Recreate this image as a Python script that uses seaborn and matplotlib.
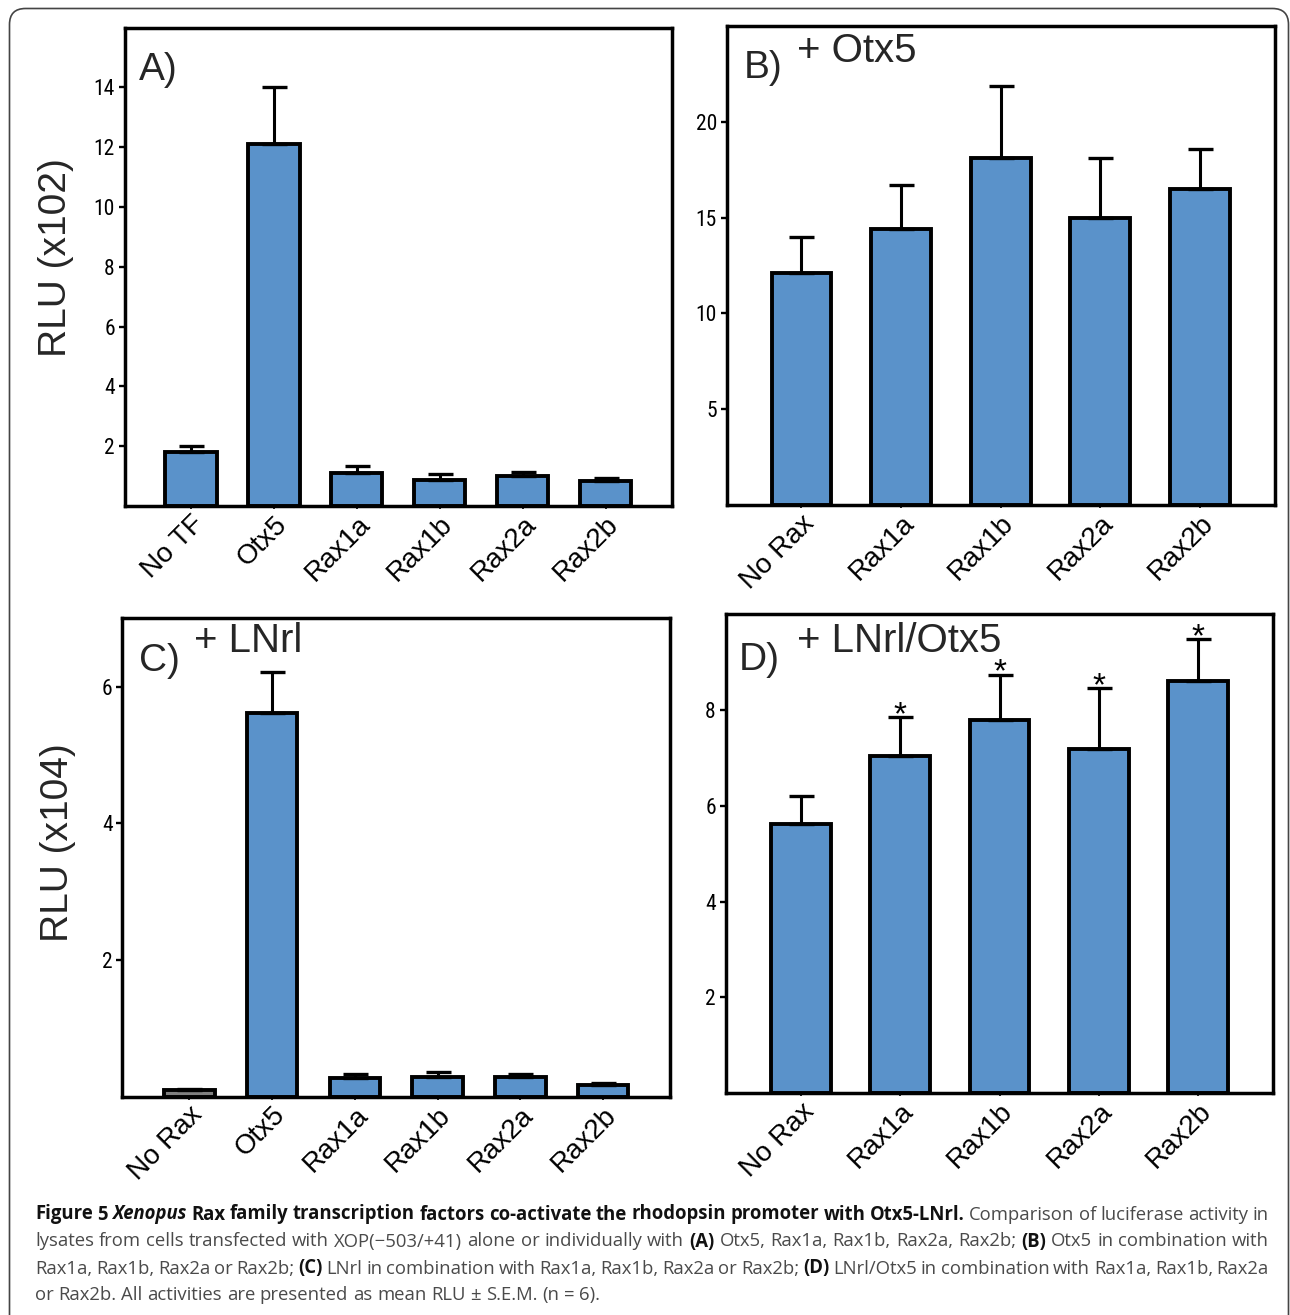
import numpy as np
import pandas as pd
import matplotlib
matplotlib.use('Agg')
import matplotlib.pyplot as plt
import seaborn as sns
from matplotlib.patches import FancyBboxPatch
from matplotlib.transforms import IdentityTransform

sns.set_theme(style='white')
plt.rcParams['font.family'] = ['Liberation Sans', 'DejaVu Sans']

# ---------------- data ----------------
cats_a = ['No TF', 'Otx5', 'Rax1a', 'Rax1b', 'Rax2a', 'Rax2b']
mean_a = [1.8, 12.1, 1.1, 0.88, 1.0, 0.84]
sem_a = [0.2, 1.9, 0.23, 0.18, 0.13, 0.1]

cats_b = ['No Rax', 'Rax1a', 'Rax1b', 'Rax2a', 'Rax2b']
mean_b = [12.1, 14.4, 18.1, 15.0, 16.5]
sem_b = [1.9, 2.3, 3.75, 3.1, 2.1]

cats_c = ['No Rax', 'Otx5', 'Rax1a', 'Rax1b', 'Rax2a', 'Rax2b']
mean_c = [0.1, 5.62, 0.27, 0.29, 0.29, 0.17]
sem_c = [0.02, 0.59, 0.06, 0.07, 0.04, 0.03]

cats_d = ['No Rax', 'Rax1a', 'Rax1b', 'Rax2a', 'Rax2b']
mean_d = [5.62, 7.04, 7.8, 7.19, 8.62]
sem_d = [0.58, 0.82, 0.94, 1.27, 0.86]
sig_d = ['', '*', '*', '*', '*']

BLUE = '#5a92ca'
GREY = '#7f7f7f'
W, H = 1290, 1315
COND = ['Roboto Condensed', 'DejaVu Sans']

fig = plt.figure(figsize=(W / 100, H / 100), dpi=100)
fig.patch.set_facecolor('white')


def px_axes(l, r, t, b):
    return fig.add_axes([l / W, 1 - b / H, (r - l) / W, (b - t) / H])


def bar_panel(ax, cats, means, sems, colors, ylim, yticks, xlim, width):
    df = pd.DataFrame({'cat': cats, 'val': means})
    sns.barplot(data=df, x='cat', y='val', hue='cat', palette=colors, legend=False,
                width=width, edgecolor='black', linewidth=2.8, saturation=1, ax=ax)
    x = np.arange(len(cats))
    ax.errorbar(x, means, yerr=[np.zeros(len(sems)), sems], fmt='none',
                ecolor='black', elinewidth=2.2, capsize=9, capthick=2.4, zorder=1)
    ax.set_ylim(*ylim)
    ax.set_xlim(*xlim)
    ax.set_yticks(yticks)
    ax.set_yticklabels([str(t) for t in yticks], family=COND, fontsize=15.5)
    ax.set_xlabel('')
    ax.set_ylabel('')
    ax.tick_params(axis='y', direction='out', length=4.5, width=1.7, pad=2.5, left=True, colors='black')
    ax.tick_params(axis='x', direction='out', length=2.2, width=1.2, pad=1.5, bottom=True, colors='black')
    plt.setp(ax.get_xticklabels(), rotation=45, ha='right', va='top', rotation_mode='anchor',
             fontsize=20)
    for sp in ax.spines.values():
        sp.set_visible(True)
        sp.set_linewidth(2.5)
        sp.set_color('black')


ax_a = px_axes(124.5, 672, 27.6, 506)
bar_panel(ax_a, cats_a, mean_a, sem_a, [BLUE] * 6, (0, 16), [2, 4, 6, 8, 10, 12, 14], (-0.8, 5.8), 0.62)

ax_b = px_axes(726.7, 1274.6, 26, 505)
bar_panel(ax_b, cats_b, mean_b, sem_b, [BLUE] * 5, (0, 25), [5, 10, 15, 20], (-0.75, 4.75), 0.6)

ax_c = px_axes(122.3, 670.2, 618.4, 1096.7)
bar_panel(ax_c, cats_c, mean_c, sem_c, [GREY] + [BLUE] * 5, (0, 7), [2, 4, 6], (-0.81, 5.81), 0.61)

ax_d = px_axes(725.5, 1272.6, 614.5, 1092.9)
bar_panel(ax_d, cats_d, mean_d, sem_d, [BLUE] * 5, (0, 10), [2, 4, 6, 8], (-0.76, 4.75), 0.6)

for i, s in enumerate(sig_d):
    if s:
        ax_d.annotate(s, xy=(i, mean_d[i] + sem_d[i]), xytext=(0, -5), textcoords='offset points',
                      ha='center', va='baseline', fontsize=24, color='black')


# ---------------- panel letters / titles ----------------
def ftext(x, y, s, **kw):
    fig.text(x / W, 1 - y / H, s, **kw)


ftext(138.6, 80.4, 'A)', fontsize=28, va='baseline', ha='left')
ftext(744, 78.5, 'B)', fontsize=28, va='baseline', ha='left')
ftext(796.7, 62, '+ Otx5', fontsize=29, va='baseline', ha='left')
ftext(138.6, 670.8, 'C)', fontsize=28, va='baseline', ha='left')
ftext(193.6, 651.7, '+ LNrl', fontsize=29, va='baseline', ha='left')
ftext(738.4, 670.5, 'D)', fontsize=28, va='baseline', ha='left')
ftext(796.7, 651.7, '+ LNrl/Otx5', fontsize=29, va='baseline', ha='left')

ftext(66, 257.5, 'RLU (x102)', fontsize=28, rotation=90, rotation_mode='anchor',
      ha='center', va='baseline')
ftext(68, 843, 'RLU (x104)', fontsize=28, rotation=90, rotation_mode='anchor',
      ha='center', va='baseline')

# ---------------- outer rounded frame ----------------
frame = FancyBboxPatch((9.5, -30), 1279, H - 8.5 + 30, boxstyle='round,pad=0,rounding_size=16',
                       transform=IdentityTransform(), fill=False, edgecolor='#444444', linewidth=1.2)
fig.add_artist(frame)

# ---------------- caption ----------------
cap_lines = [
    [("Figure 5", 'b'), ("Xenopus", 'bi'),
     ("Rax family transcription factors co-activate the rhodopsin promoter with Otx5-LNrl.", 'b'),
     ("Comparison of luciferase activity in", 'r')],
    [("lysates from cells transfected with XOP(\u2212503/+41) alone or individually with", 'r'),
     ("(A)", 'b'), ("Otx5, Rax1a, Rax1b, Rax2a, Rax2b;", 'r'), ("(B)", 'b'),
     ("Otx5 in combination with", 'r')],
    [("Rax1a, Rax1b, Rax2a or Rax2b;", 'r'), ("(C)", 'b'),
     ("LNrl in combination with Rax1a, Rax1b, Rax2a or Rax2b;", 'r'), ("(D)", 'b'),
     ("LNrl/Otx5 in combination with Rax1a, Rax1b, Rax2a", 'r')],
    [("or Rax2b. All activities are presented as mean RLU \u00b1 S.E.M. (n = 6).", 'r')],
]
cap_y = [1219.5, 1246.5, 1273.5, 1300]
cap_x0, cap_x1 = 35, 1269
cap_family = ['Open Sans', 'DejaVu Sans']
styles = {'b': dict(weight='bold', style='normal', color='#111111'),
          'bi': dict(weight='bold', style='italic', color='#111111'),
          'r': dict(weight='normal', style='normal', color='#4a4a4a')}

renderer = fig.canvas.get_renderer()


def txt_width(s, size, st):
    t = fig.text(0, 0, s, fontsize=size, family=cap_family, weight=styles[st]['weight'],
                 style=styles[st]['style'])
    w = t.get_window_extent(renderer).width
    t.remove()
    return w


def words_of(line):
    out = []
    for s, st in line:
        for w in s.split(' '):
            if w:
                out.append((w, st))
    return out


# fit the font size so that the justified lines have about natural word spacing
base = 13
sp_w = txt_width('a a', base, 'r') - txt_width('aa', base, 'r')
nat = 0
for line in cap_lines[:3]:
    ws = words_of(line)
    nat += sum(txt_width(w, base, st) for w, st in ws) + sp_w * (len(ws) - 1)
cap_size = base * 3 * (cap_x1 - cap_x0) / nat
space = sp_w * cap_size / base

for k, line in enumerate(cap_lines):
    ws = words_of(line)
    widths = [txt_width(w, cap_size, st) for w, st in ws]
    if k < len(cap_lines) - 1:
        gap = (cap_x1 - cap_x0 - sum(widths)) / (len(ws) - 1)
    else:
        gap = space
    x = cap_x0
    for (w, st), wd in zip(ws, widths):
        fig.text(x / W, 1 - cap_y[k] / H, w, fontsize=cap_size, family=cap_family,
                 va='baseline', ha='left', **styles[st])
        x += wd + gap

fig.savefig('out.png', dpi=100)
